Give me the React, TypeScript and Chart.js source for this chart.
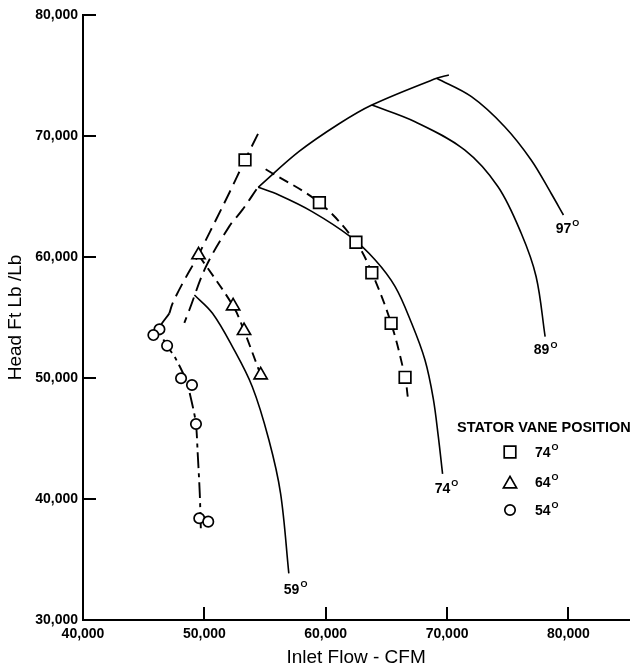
import React, { useEffect, useRef } from 'react';
import { Chart, registerables } from 'chart.js';

Chart.register(...registerables);

const FONT = '"Liberation Sans", Arial, Helvetica, sans-serif';

// Axes
const X_MIN = 40000;
const X_MAX = 85000;
const Y_MIN = 30000;
const Y_MAX = 80000;
const X_TICKS = [40000, 50000, 60000, 70000, 80000];
const Y_TICKS = [30000, 40000, 50000, 60000, 70000, 80000];
const X_TITLE = 'Inlet Flow - CFM';
const Y_TITLE = 'Head Ft Lb /Lb';

// Legend
const LEGEND_TITLE = 'STATOR VANE POSITION';
const LEGEND_LABELS = ['74', '64', '54'];
const LEGEND_STYLES = ['rect', 'triangle', 'circle'];

// Test points: stator vane positions
const SQ74_X = [53350, 59480, 62490, 63800, 65390, 66540];
const SQ74_Y = [68020, 64490, 61220, 58700, 54520, 50060];
const TRI64_X = [49520, 52370, 53270, 54640];
const TRI64_Y = [60170, 55950, 53910, 50250];
const CIR54_X = [46300, 45800, 46930, 48080, 48980, 49310, 49580, 50320];
const CIR54_Y = [54030, 53550, 52670, 49980, 49420, 46200, 38410, 38130];

// Solid performance curves
const SURGE_X = [54440, 57780, 61070, 63800, 69140, 70150];
const SURGE_Y = [65760, 68700, 70990, 72560, 74770, 75040];
const C97_X = [69140, 72010, 74750, 76930, 78570, 79590];
const C97_Y = [74770, 73250, 70770, 68020, 65270, 63470];
const C89_X = [63800, 67360, 71470, 74200, 76110, 77340, 78080];
const C89_Y = [72560, 71180, 68840, 65810, 61960, 58370, 53420];
const C74_X = [54440, 56140, 58880, 62030, 64080, 65720, 67080, 68180, 68860, 69280, 69630];
const C74_Y = [65760, 65120, 63750, 61680, 59750, 57550, 54520, 51490, 48320, 45150, 42070];
const C59_X = [49180, 50670, 52310, 53950, 55320, 56280, 56960];
const C59_Y = [56860, 55350, 52590, 49280, 44880, 40470, 33860];

// Dashed faired lines
const LA_X = [54420, 53350, 52040, 50950, 49990, 49520, 48210, 47390, 47120];
const LA_Y = [70170, 68020, 65270, 63060, 61130, 60170, 57830, 56180, 55350];
const L54_X = [47120, 46300, 46930, 47610, 48510, 49030, 49310, 49450, 49620, 49720];
const L54_Y = [55350, 54030, 52670, 51650, 49750, 47700, 46200, 43800, 40500, 37190];
const LB_X = [54300, 53130, 52040, 50130, 48760, 48350];
const LB_Y = [65600, 63890, 62510, 59200, 55620, 54550];
const L64_X = [49520, 52370, 53270, 54640];
const L64_Y = [60170, 55950, 53910, 50250];
const L74_X = [55050, 59480, 62490, 63800, 65390, 66540, 66760];
const L74_Y = [67250, 64490, 61220, 58700, 54520, 50060, 48460];

// Curve labels (angle, anchored in data space)
const CURVE_LABELS = ['97', '89', '74', '59'];
const CURVE_LABEL_X = [79600, 77790, 69630, 57190];
const CURVE_LABEL_Y = [62340, 52270, 40830, 32480];

const pts = (xs: number[], ys: number[]) => xs.map((x, i) => ({ x, y: ys[i] }));

const R_SQ = 8.2;
const R_TRI = 7.6;
const R_CIR = 5.2;

function drawMarker(ctx: CanvasRenderingContext2D, style: string, x: number, y: number) {
  ctx.save();
  ctx.lineWidth = 1.7;
  ctx.strokeStyle = '#000';
  ctx.fillStyle = '#fff';
  ctx.setLineDash([]);
  ctx.beginPath();
  if (style === 'rect') {
    const s = R_SQ * Math.SQRT1_2;
    ctx.rect(x - s, y - s, 2 * s, 2 * s);
  } else if (style === 'triangle') {
    let a = 0;
    ctx.moveTo(x + Math.sin(a) * R_TRI, y - Math.cos(a) * R_TRI);
    a += (2 * Math.PI) / 3;
    ctx.lineTo(x + Math.sin(a) * R_TRI, y - Math.cos(a) * R_TRI);
    a += (2 * Math.PI) / 3;
    ctx.lineTo(x + Math.sin(a) * R_TRI, y - Math.cos(a) * R_TRI);
    ctx.closePath();
  } else {
    ctx.arc(x, y, R_CIR, 0, Math.PI * 2);
  }
  ctx.fill();
  ctx.stroke();
  ctx.restore();
}

function drawDeg(ctx: CanvasRenderingContext2D, text: string, x: number, y: number, centered: boolean) {
  ctx.save();
  ctx.fillStyle = '#000';
  ctx.font = `bold 14px ${FONT}`;
  ctx.textBaseline = 'middle';
  ctx.textAlign = 'left';
  const w = ctx.measureText(text).width;
  const left = centered ? x - w / 2 : x;
  ctx.fillText(text, left, y);
  ctx.font = `bold 9px ${FONT}`;
  ctx.fillText('O', left + w + 1, y - 5);
  ctx.restore();
}

const annotations = {
  id: 'annotations',
  afterDraw(chart: any) {
    const ctx: CanvasRenderingContext2D = chart.ctx;
    const xs = chart.scales.x;
    const ys = chart.scales.y;
    const area = chart.chartArea;
    // inward tick marks
    ctx.save();
    ctx.strokeStyle = '#000';
    ctx.lineWidth = 2;
    ctx.beginPath();
    Y_TICKS.forEach((v) => {
      if (v === Y_MIN) return;
      const py = Math.round(ys.getPixelForValue(v));
      ctx.moveTo(area.left, py);
      ctx.lineTo(area.left + 13, py);
    });
    X_TICKS.forEach((v) => {
      if (v === X_MIN) return;
      const px = Math.round(xs.getPixelForValue(v));
      ctx.moveTo(px, area.bottom);
      ctx.lineTo(px, area.bottom - 13);
    });
    ctx.stroke();
    ctx.restore();

    // curve labels
    CURVE_LABELS.forEach((t, i) => {
      drawDeg(ctx, t, xs.getPixelForValue(CURVE_LABEL_X[i]), ys.getPixelForValue(CURVE_LABEL_Y[i]), true);
    });

    // legend
    ctx.save();
    ctx.fillStyle = '#000';
    ctx.font = `bold 14.5px ${FONT}`;
    ctx.textBaseline = 'middle';
    ctx.textAlign = 'left';
    ctx.fillText(LEGEND_TITLE, 457, 428);
    ctx.restore();
    const rowY = [452, 482, 510];
    LEGEND_LABELS.forEach((t, i) => {
      drawMarker(ctx, LEGEND_STYLES[i], 510, rowY[i] + (LEGEND_STYLES[i] === 'triangle' ? 2 : 0));
      drawDeg(ctx, t, 535, rowY[i] + 1, false);
    });
  },
};

const solid = (xs: number[], ys: number[]) => ({
  type: 'scatter' as const,
  data: pts(xs, ys),
  showLine: true,
  borderColor: '#000',
  borderWidth: 1.6,
  pointRadius: 0,
  tension: 0.35,
  fill: false,
  order: 2,
});

const dashed = (xs: number[], ys: number[], dash: number[], tension = 0.35) => ({
  type: 'scatter' as const,
  data: pts(xs, ys),
  showLine: true,
  borderColor: '#000',
  borderWidth: 1.9,
  borderDash: dash,
  pointRadius: 0,
  tension,
  fill: false,
  order: 2,
});

const markers = (xs: number[], ys: number[], style: string, r: number) => ({
  type: 'scatter' as const,
  data: pts(xs, ys),
  showLine: false,
  pointStyle: style,
  pointRadius: r,
  pointBorderWidth: 1.7,
  pointBorderColor: '#000',
  pointBackgroundColor: '#fff',
  order: 0,
});

export default function App() {
  const ref = useRef<HTMLCanvasElement>(null);
  useEffect(() => {
    if (!ref.current) return;
    const chart = new Chart(ref.current, {
      type: 'scatter',
      data: {
        datasets: [
          markers(SQ74_X, SQ74_Y, 'rect', R_SQ),
          markers(TRI64_X, TRI64_Y, 'triangle', R_TRI),
          markers(CIR54_X, CIR54_Y, 'circle', R_CIR),
          solid(SURGE_X, SURGE_Y),
          solid(C97_X, C97_Y),
          solid(C89_X, C89_Y),
          solid(C74_X, C74_Y),
          solid(C59_X, C59_Y),
          dashed(LA_X, LA_Y, [14, 7]),
          dashed(L54_X, L54_Y, [16, 5, 4, 5], 0.3),
          dashed(LB_X, LB_Y, [14, 7]),
          dashed(L64_X, L64_Y, [10, 6]),
          dashed(L74_X, L74_Y, [10, 6]),
        ] as any,
      },
      options: {
        responsive: false,
        animation: false,
        events: [],
        layout: { padding: { top: 15, right: 6, left: 0, bottom: 0 } },
        plugins: {
          legend: { display: false },
          tooltip: { enabled: false },
        },
        scales: {
          x: {
            type: 'linear',
            min: X_MIN,
            max: X_MAX,
            afterBuildTicks: (s: any) => {
              s.ticks = X_TICKS.map((value) => ({ value }));
            },
            afterFit: (s: any) => {
              s.height = 49;
            },
            grid: { display: false, drawTicks: false },
            border: { display: true, color: '#000', width: 2 },
            ticks: {
              color: '#000',
              padding: 6,
              maxRotation: 0,
              font: { family: FONT, size: 14, weight: 'bold' },
              callback: (v: any) => Number(v).toLocaleString('en-US'),
            },
            title: {
              display: true,
              text: X_TITLE,
              color: '#000',
              padding: { top: 0, bottom: 0 },
              font: { family: FONT, size: 19, weight: 'normal', lineHeight: 1.2 },
            },
          },
          y: {
            type: 'linear',
            min: Y_MIN,
            max: Y_MAX,
            afterBuildTicks: (s: any) => {
              s.ticks = Y_TICKS.map((value) => ({ value }));
            },
            afterFit: (s: any) => {
              s.width = 83;
            },
            grid: { display: false, drawTicks: false },
            border: { display: true, color: '#000', width: 2 },
            ticks: {
              color: '#000',
              padding: 5,
              font: { family: FONT, size: 14, weight: 'bold' },
              callback: (v: any) => Number(v).toLocaleString('en-US'),
            },
            title: {
              display: true,
              text: Y_TITLE,
              color: '#000',
              padding: { top: 4, bottom: 0 },
              font: { family: FONT, size: 19, weight: 'normal', lineHeight: 1.2 },
            },
          },
        },
      } as any,
      plugins: [annotations],
    });
    return () => chart.destroy();
  }, []);

  return (
    <div style={{ position: 'absolute', left: 0, top: 0, width: 639, height: 669, background: '#fff' }}>
      <canvas ref={ref} width={639} height={669} style={{ display: 'block', width: 639, height: 669 }} />
    </div>
  );
}
